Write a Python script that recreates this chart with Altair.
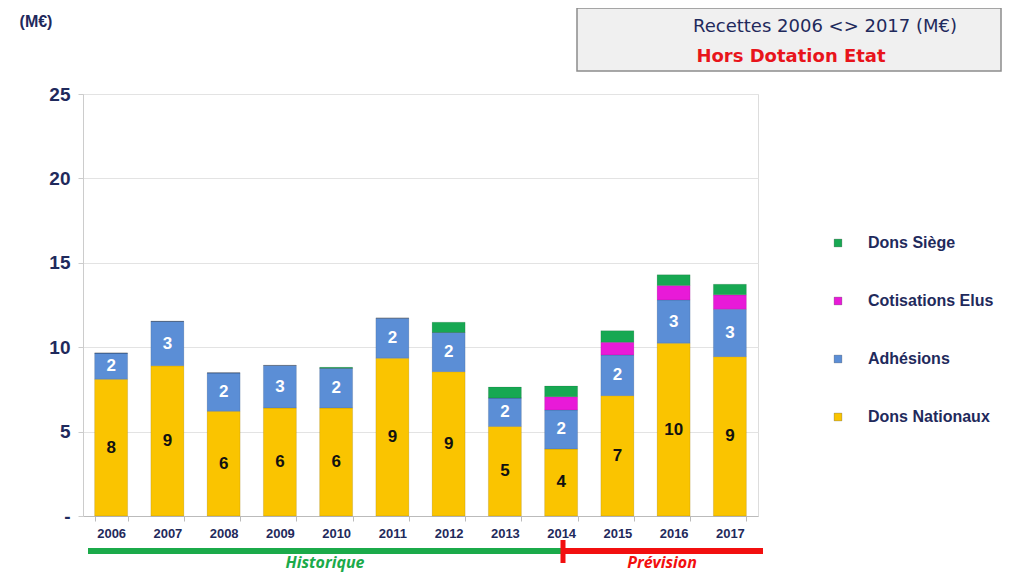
import altair as alt
import pandas as pd

years = ["2006", "2007", "2008", "2009", "2010", "2011", "2012", "2013", "2014", "2015", "2016", "2017"]
dons_nationaux = [8.1, 8.9, 6.2, 6.4, 6.4, 9.35, 8.55, 5.3, 3.97, 7.13, 10.24, 9.44]
adhesions = [1.55, 2.63, 2.28, 2.52, 2.35, 2.37, 2.32, 1.69, 2.31, 2.41, 2.56, 2.81]
cotisations_elus = [0, 0, 0, 0, 0, 0, 0, 0, 0.79, 0.75, 0.85, 0.85]
dons_siege = [0, 0, 0, 0, 0.06, 0, 0.61, 0.65, 0.63, 0.69, 0.64, 0.63]

categories = ["Dons Nationaux", "Adhésions", "Cotisations Elus", "Dons Siège"]
colors = {"Dons Nationaux": "#FAC400", "Adhésions": "#5B8ED6",
          "Cotisations Elus": "#E81AD8", "Dons Siège": "#17A852"}
legend_order = ["Dons Siège", "Cotisations Elus", "Adhésions", "Dons Nationaux"]

series = [dons_nationaux, adhesions, cotisations_elus, dons_siege]
rows = []
for ci, (cat, vals) in enumerate(zip(categories, series)):
    for y, v in zip(years, vals):
        rows.append({"year": y, "cat": cat, "idx": ci, "value": v})
df = pd.DataFrame(rows)

NAVY = "#1F2A5C"
W, H = 675, 422

x_enc = alt.X("year:N", scale=alt.Scale(paddingInner=0.413),
              axis=alt.Axis(title=None, labelAngle=0, labelFont="Liberation Sans",
                            labelFontSize=13, labelFontWeight="bold", labelColor=NAVY,
                            labelPadding=6, tickBand="extent", tickSize=5,
                            tickColor="#BBBBBB", domainColor="#BBBBBB"))
y_scale = alt.Scale(domain=[0, 25], nice=False)

base = alt.Chart(df)

bars = base.mark_bar(stroke="#00000022", strokeWidth=0.8).encode(
    x=x_enc,
    y=alt.Y("value:Q", stack="zero", scale=y_scale,
            axis=alt.Axis(title=None, values=[0, 5, 10, 15, 20, 25],
                          labelExpr="datum.value == 0 ? '-' : datum.label",
                          labelFont="Liberation Sans", labelFontSize=19,
                          labelFontWeight="bold", labelColor=NAVY, labelPadding=8,
                          tickSize=5, tickColor="#CCCCCC", domainColor="#CCCCCC",
                          gridColor="#E3E3E3")),
    color=alt.Color("cat:N",
                    scale=alt.Scale(domain=legend_order,
                                    range=[colors[c] for c in legend_order]),
                    legend=alt.Legend(title=None, orient="none", legendX=747, legendY=141,
                                      symbolType="square", symbolSize=60,
                                      symbolStrokeColor="#00000033", symbolStrokeWidth=1,
                                      labelFont="Liberation Sans", labelFontSize=16,
                                      labelFontWeight="bold", labelColor=NAVY,
                                      labelOffset=22, rowPadding=42, padding=0)),
    order=alt.Order("idx:Q", sort="ascending"),
)

stacked = base.transform_stack(
    stack="value", groupby=["year"], sort=[alt.SortField("idx", "ascending")], as_=["v0", "v1"]
).transform_calculate(
    mid="(datum.v0 + datum.v1) / 2", lab="format(round(datum.value), 'd')"
)

lab_dn = stacked.transform_filter("datum.idx == 0").mark_text(
    font="Liberation Sans", fontSize=17, fontWeight="bold", color="#111111"
).encode(x="year:N", y=alt.Y("mid:Q", scale=y_scale), text="lab:N")

lab_ad = stacked.transform_filter("datum.idx == 1").mark_text(
    font="Liberation Sans", fontSize=17, fontWeight="bold", color="white"
).encode(x="year:N", y=alt.Y("mid:Q", scale=y_scale), text="lab:N")

# annotations (pixel positions relative to the plot origin)
ann = pd.DataFrame({"k": [0]})
a = alt.Chart(ann)

unit = a.mark_text(text="(M€)", font="Liberation Sans", fontSize=16, fontWeight="bold",
                   color=NAVY, align="center", baseline="middle").encode(
    x=alt.value(-47), y=alt.value(-72))

box = a.mark_rect(fill="#F0F0F0", stroke="#8C8C8C", strokeWidth=1.5).encode(
    x=alt.value(494), x2=alt.value(918), y=alt.value(-86), y2=alt.value(-23))

t1 = a.mark_text(text="Recettes 2006 <> 2017  (M€)", font="DejaVu Sans", fontSize=18,
                 color=NAVY, align="center", baseline="middle").encode(
    x=alt.value(742), y=alt.value(-67))

t2 = a.mark_text(text="Hors Dotation Etat", font="DejaVu Sans", fontSize=18,
                 fontWeight="bold", color="#E8141B", align="center",
                 baseline="middle").encode(x=alt.value(708), y=alt.value(-37))

green_line = a.mark_rule(color="#1BAA4A", strokeWidth=6).encode(
    x=alt.value(5), x2=alt.value(480), y=alt.value(457))
red_line = a.mark_rule(color="#F20F0F", strokeWidth=6).encode(
    x=alt.value(480), x2=alt.value(680), y=alt.value(457))
red_tick = a.mark_rule(color="#F20F0F", strokeWidth=5).encode(
    x=alt.value(480), y=alt.value(446), y2=alt.value(469))

hist = a.mark_text(text="Historique", font="Open Sans", fontSize=16, fontWeight="bold",
                   fontStyle="italic", color="#1BAA4A", align="center",
                   baseline="middle").encode(x=alt.value(242), y=alt.value(469))
prev = a.mark_text(text="Prévision", font="Open Sans", fontSize=16, fontWeight="bold",
                   fontStyle="italic", color="#F20F0F", align="center",
                   baseline="middle").encode(x=alt.value(579), y=alt.value(469))

chart = alt.layer(
    bars, lab_dn, lab_ad, unit, box, t1, t2, green_line, red_line, red_tick, hist, prev
).properties(
    width=W, height=H,
    autosize=alt.AutoSizeParams(type="none"),
    padding={"left": 75, "top": 86, "right": 245, "bottom": 57},
).configure_view(stroke=None).configure(background="white")

chart.save("out.html", embed_options={"renderer": "svg", "actions": False})
